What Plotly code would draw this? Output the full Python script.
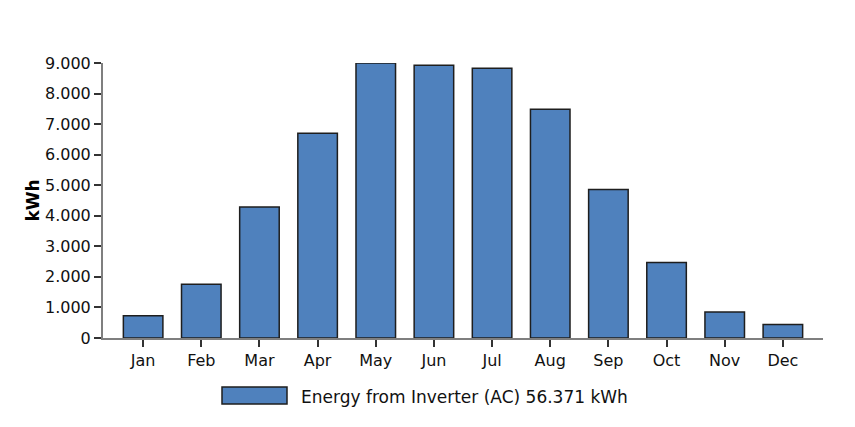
import plotly.graph_objects as go

months = ["Jan", "Feb", "Mar", "Apr", "May", "Jun", "Jul", "Aug", "Sep", "Oct", "Nov", "Dec"]
energy_kwh = [730, 1760, 4290, 6700, 9000, 8930, 8830, 7490, 4860, 2470, 850, 440]
y_ticks = [0, 1000, 2000, 3000, 4000, 5000, 6000, 7000, 8000, 9000]
y_tick_labels = ["0", "1.000", "2.000", "3.000", "4.000", "5.000", "6.000", "7.000", "8.000", "9.000"]
series_label = "Energy from Inverter (AC) 56.371 kWh"
y_title = "kWh"

FONT = "DejaVu Sans"
BAR_FILL = "#4F81BD"
BAR_LINE = "#1E1E1E"
AXIS_COL = "#7F7F7F"
TXT = "#111111"

# page body has an 8px margin; compensate so the plot lands where the reference has it
OFF = 8
PL, PT, PW, PH = 103 - OFF, 63 - OFF, 720, 275

fig = go.Figure()
fig.add_trace(go.Bar(
    x=list(range(len(months))),
    y=energy_kwh,
    width=0.68,
    marker=dict(color=BAR_FILL, line=dict(color=BAR_LINE, width=1.5)),
    name=series_label,
    showlegend=False,
))

W, H = 855 - OFF, 427 - OFF
fig.update_layout(
    width=W, height=H,
    margin=dict(l=PL, r=W - PL - PW, t=PT, b=H - PT - PH, pad=0),
    paper_bgcolor="white", plot_bgcolor="white",
    font=dict(family=FONT, size=16, color=TXT),
    xaxis=dict(
        range=[-0.69, 11.69],
        tickmode="array",
        tickvals=list(range(len(months))),
        ticktext=months,
        showgrid=False, zeroline=False,
        showline=True, linecolor=AXIS_COL, linewidth=2,
        ticks="outside", ticklen=7, tickwidth=1.5, tickcolor="#333333",
        tickfont=dict(family=FONT, size=16, color=TXT),
    ),
    yaxis=dict(
        range=[0, 9000],
        tickmode="array",
        tickvals=y_ticks,
        ticktext=y_tick_labels,
        showgrid=False, zeroline=False,
        showline=True, linecolor=AXIS_COL, linewidth=2,
        ticks="outside", ticklen=7, tickwidth=1.5, tickcolor="#333333",
        tickfont=dict(family=FONT, size=16, color=TXT),
        title=dict(text="<b>" + y_title + "</b>", font=dict(family=FONT, size=17, color="#000000"), standoff=1),
    ),
    showlegend=False,
)

def px_x(x):
    return (x - 103) / PW

def px_y(y):
    return (338 - y) / PH

# Legend swatch + label (manual legend to match the wide swatch)
fig.add_shape(type="rect", xref="paper", yref="paper",
              x0=px_x(222), x1=px_x(287), y0=px_y(404), y1=px_y(387),
              fillcolor=BAR_FILL, line=dict(color=BAR_LINE, width=1.5))
fig.add_annotation(xref="paper", yref="paper",
                   x=px_x(299), y=px_y(397),
                   xanchor="left", yanchor="middle", showarrow=False,
                   text=series_label, font=dict(family=FONT, size=17, color=TXT))
fig.add_annotation(xref="paper", yref="paper",
                   x=px_x(849), y=px_y(420),
                   xanchor="center", yanchor="middle", showarrow=False,
                   text="-", font=dict(family=FONT, size=11, color="#555555"))

fig.write_html("out.html")
